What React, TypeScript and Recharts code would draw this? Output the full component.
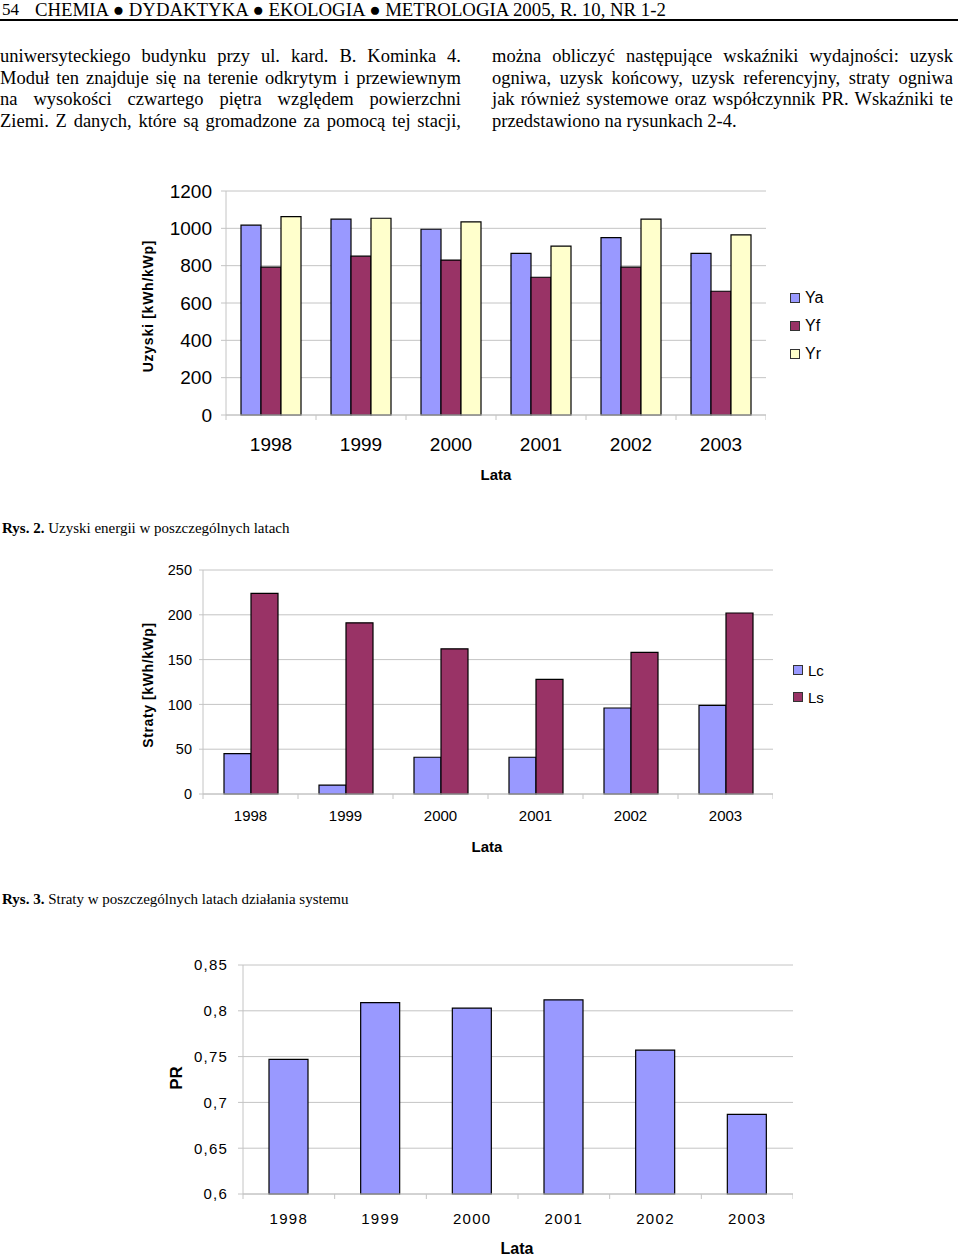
import React from 'react';
import { BarChart, Bar, XAxis, YAxis, CartesianGrid } from 'recharts';

// ---- data ----
const years = ['1998', '1999', '2000', '2001', '2002', '2003'];

const yaValues = [1017, 1049, 995, 866, 950, 866];
const yfValues = [792, 851, 830, 738, 792, 663];
const yrValues = [1063, 1054, 1035, 905, 1049, 965];
const yieldTicks = [0, 200, 400, 600, 800, 1000, 1200];

const lcValues = [45, 10, 41, 41, 96, 99];
const lsValues = [224, 191, 162, 128, 158, 202];
const lossTicks = [0, 50, 100, 150, 200, 250];

const prValues = [0.747, 0.809, 0.803, 0.812, 0.757, 0.687];
const prTicks = [0.6, 0.65, 0.7, 0.75, 0.8, 0.85];

const leftColumn = [
  'uniwersyteckiego budynku przy ul. kard. B. Kominka 4.',
  'Moduł ten znajduje się na terenie odkrytym i przewiewnym',
  'na wysokości czwartego piętra względem powierzchni',
  'Ziemi. Z danych, które są gromadzone za pomocą tej stacji,',
];
const rightColumn = [
  'można obliczyć następujące wskaźniki wydajności: uzysk',
  'ogniwa, uzysk końcowy, uzysk referencyjny, straty ogniwa',
  'jak również systemowe oraz współczynnik PR. Wskaźniki te',
  'przedstawiono na rysunkach 2-4.',
];

const SANS = '"Liberation Sans", Arial, sans-serif';
const SERIF = '"Liberation Serif", "Times New Roman", serif';
const BLUE = '#9999ff';
const PLUM = '#993366';
const CREAM = '#ffffcc';
const GRID = '#c4c4c4';

const yieldData = years.map((year, i) => ({ year, ya: yaValues[i], yf: yfValues[i], yr: yrValues[i] }));
const lossData = years.map((year, i) => ({ year, lc: lcValues[i], ls: lsValues[i] }));
const prData = years.map((year, i) => ({ year, pr: prValues[i] }));

// year label + Excel-like tick marks between categories
const makeYearTick = (step: number, dy: number, fontSize: number, spacing = 0) => (props: any) => {
  const { x, y, payload, index } = props;
  const last = index === years.length - 1 || payload.value === years[years.length - 1];
  return (
    <g>
      <line x1={x - step / 2} y1={y} x2={x - step / 2} y2={y + 5} stroke={GRID} />
      {last && <line x1={x + step / 2} y1={y} x2={x + step / 2} y2={y + 5} stroke={GRID} />}
      <text x={x} y={y + dy} textAnchor="middle" dominantBaseline="central" fontSize={fontSize}
        fontFamily={SANS} letterSpacing={spacing} fill="#000">
        {payload.value}
      </text>
    </g>
  );
};

const AxisTitle = ({ text, x, y, size, rotate = false, spacing = 0 }: any) => (
  <div style={{
    position: 'absolute', left: x, top: y, whiteSpace: 'nowrap', fontFamily: SANS, fontWeight: 'bold',
    fontSize: size, letterSpacing: spacing, lineHeight: 1,
    transform: rotate ? 'translate(-50%, -50%) rotate(-90deg)' : 'translate(-50%, -50%)',
  }}>{text}</div>
);

const LegendItem = ({ x, y, color, label, size }: any) => (
  <div style={{ position: 'absolute', left: x, top: y - 10, height: 20, display: 'flex', alignItems: 'center', fontFamily: SANS, fontSize: size }}>
    <span style={{ width: 8, height: 8, background: color, border: '1px solid #333', marginRight: 5 }} />
    <span>{label}</span>
  </div>
);

const TextLines = ({ lines, left, width, lastPlain }: any) => (
  <>
    {lines.map((t: string, i: number) => (
      <div key={i} style={{
        position: 'absolute', left, top: 46 + i * 21.7, width, fontFamily: SERIF, fontSize: 18.5,
        lineHeight: '21.7px', textAlign: 'justify',
        textAlignLast: lastPlain && i === lines.length - 1 ? 'left' : 'justify',
      } as any}>{t}</div>
    ))}
  </>
);

export default function App() {
  const axisProps = { stroke: GRID };
  return (
    <div style={{ position: 'absolute', left: 0, top: 0, width: 960, height: 1257, background: '#fff', overflow: 'hidden', color: '#000' }}>
      {/* running head */}
      <div style={{ position: 'absolute', left: 2, top: 0, fontFamily: SERIF, fontSize: 17, lineHeight: '19px' }}>54</div>
      <div style={{ position: 'absolute', left: 35, top: 0, fontFamily: SERIF, fontSize: 18.8, lineHeight: '20px', whiteSpace: 'nowrap' }}>
        CHEMIA ● DYDAKTYKA ● EKOLOGIA ● METROLOGIA 2005, R. 10, NR 1-2
      </div>
      <div style={{ position: 'absolute', left: 0, top: 19, width: 958, height: 2, background: '#000' }} />

      <TextLines lines={leftColumn} left={0} width={461} />
      <TextLines lines={rightColumn} left={492} width={461} lastPlain />

      {/* Rys. 2 */}
      <div style={{ position: 'absolute', left: 100, top: 180 }}>
        <BarChart width={666} height={275} data={yieldData} barGap={0} margin={{ top: 11, right: 0, bottom: 0, left: 0 }}>
          <CartesianGrid vertical={false} stroke={GRID} />
          <XAxis dataKey="year" height={40} interval={0} tickLine={false} tickSize={0} tickMargin={0}
            axisLine={axisProps} tick={makeYearTick(540 / 6, 29, 19)} />
          <YAxis type="number" domain={[0, 1200]} ticks={yieldTicks} interval={0} width={126}
            tickSize={5} tickMargin={9} axisLine={axisProps} tickLine={axisProps}
            tick={{ fontSize: 19, fill: '#000', fontFamily: SANS }} />
          <Bar dataKey="ya" fill={BLUE} stroke="#000" strokeWidth={1.2} barSize={20} isAnimationActive={false} />
          <Bar dataKey="yf" fill={PLUM} stroke="#000" strokeWidth={1.2} barSize={20} isAnimationActive={false} />
          <Bar dataKey="yr" fill={CREAM} stroke="#000" strokeWidth={1.2} barSize={20} isAnimationActive={false} />
        </BarChart>
      </div>
      <AxisTitle text="Uzyski [kWh/kWp]" x={148} y={306} size={14} rotate spacing={0.75} />
      <AxisTitle text="Lata" x={496} y={474} size={15} />
      <LegendItem x={790} y={298} color={BLUE} label="Ya" size={16} />
      <LegendItem x={790} y={326} color={PLUM} label="Yf" size={16} />
      <LegendItem x={790} y={354} color={CREAM} label="Yr" size={16} />

      <div style={{ position: 'absolute', left: 2, top: 519, fontFamily: SERIF, fontSize: 15, lineHeight: '18px', whiteSpace: 'nowrap' }}>
        <b>Rys. 2.</b> Uzyski energii w poszczególnych latach
      </div>

      {/* Rys. 3 */}
      <div style={{ position: 'absolute', left: 100, top: 560 }}>
        <BarChart width={673} height={270} data={lossData} barGap={0} margin={{ top: 10, right: 0, bottom: 0, left: 0 }}>
          <CartesianGrid vertical={false} stroke={GRID} />
          <XAxis dataKey="year" height={36} interval={0} tickLine={false} tickSize={0} tickMargin={0}
            axisLine={axisProps} tick={makeYearTick(570 / 6, 21, 15)} />
          <YAxis type="number" domain={[0, 250]} ticks={lossTicks} interval={0} width={103}
            tickSize={4} tickMargin={7} axisLine={axisProps} tickLine={axisProps}
            tick={{ fontSize: 14.5, fill: '#000', fontFamily: SANS }} />
          <Bar dataKey="lc" fill={BLUE} stroke="#000" strokeWidth={1.2} barSize={27} isAnimationActive={false} />
          <Bar dataKey="ls" fill={PLUM} stroke="#000" strokeWidth={1.2} barSize={27} isAnimationActive={false} />
        </BarChart>
      </div>
      <AxisTitle text="Straty [kWh/kWp]" x={148} y={685} size={14} rotate spacing={0.6} />
      <AxisTitle text="Lata" x={487} y={846} size={15} />
      <LegendItem x={793} y={670} color={BLUE} label="Lc" size={15} />
      <LegendItem x={793} y={697} color={PLUM} label="Ls" size={15} />

      <div style={{ position: 'absolute', left: 2, top: 890, fontFamily: SERIF, fontSize: 15, lineHeight: '18px', whiteSpace: 'nowrap' }}>
        <b>Rys. 3.</b> Straty w poszczególnych latach działania systemu
      </div>

      {/* Rys. 4 */}
      <div style={{ position: 'absolute', left: 120, top: 955 }}>
        <BarChart width={673} height={275} data={prData} barGap={0} margin={{ top: 10, right: 0, bottom: 0, left: 0 }}>
          <CartesianGrid vertical={false} stroke={GRID} />
          <XAxis dataKey="year" height={36} interval={0} tickLine={false} tickSize={0} tickMargin={0}
            axisLine={axisProps} tick={makeYearTick(550 / 6, 24, 15, 1.3)} />
          <YAxis type="number" domain={[0.6, 0.85]} ticks={prTicks} interval={0} width={123}
            tickSize={5} tickMargin={10} axisLine={axisProps} tickLine={axisProps}
            tickFormatter={(v: number) => String(v).replace('.', ',')}
            tick={{ fontSize: 15, fill: '#000', fontFamily: SANS, letterSpacing: 1.2 }} />
          <Bar dataKey="pr" fill={BLUE} stroke="#000" strokeWidth={1.2} barSize={39} isAnimationActive={false} />
        </BarChart>
      </div>
      <AxisTitle text="PR" x={176} y={1078} size={17} rotate />
      <AxisTitle text="Lata" x={517} y={1249} size={16} />
    </div>
  );
}
